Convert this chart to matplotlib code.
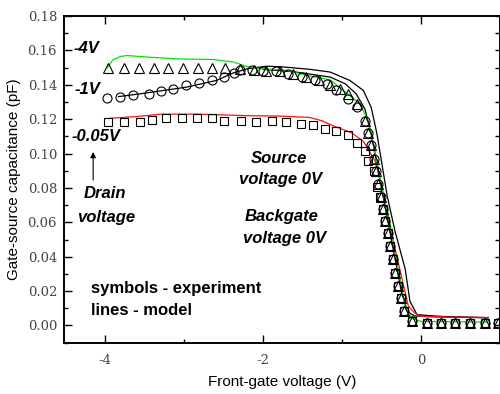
import matplotlib
matplotlib.use("Agg")
import matplotlib.pyplot as plt
from matplotlib.ticker import MultipleLocator

plt.rcParams['axes.unicode_minus'] = False
plt.rcParams['font.family'] = 'DejaVu Serif'   # tick labels are serif in the original

# experiment, drain voltage -4V (triangles)
tri_x = [-3.96, -3.76, -3.57, -3.38, -3.20, -3.01, -2.82, -2.64, -2.48,
         -2.29, -2.12, -1.96, -1.79, -1.62, -1.46, -1.29, -1.15, -1.03, -0.92, -0.81, -0.71,
         -0.67, -0.63, -0.60, -0.57, -0.54, -0.51, -0.48, -0.45, -0.42, -0.39, -0.36, -0.33,
         -0.29, -0.25, -0.21, -0.12, 0.07, 0.25, 0.43, 0.62, 0.81, 0.98]
tri_y = [0.150, 0.150, 0.150, 0.150, 0.150, 0.150, 0.150, 0.150, 0.150,
         0.149, 0.1484, 0.1478, 0.1478, 0.146, 0.1445, 0.1425, 0.140, 0.1375, 0.1347, 0.1288, 0.119,
         0.112, 0.105, 0.097, 0.090, 0.082, 0.075, 0.068, 0.061, 0.054, 0.0465, 0.0386, 0.0308,
         0.0229, 0.0161, 0.0085, 0.0024, 0.0015, 0.0015, 0.0015, 0.0015, 0.0015, 0.0015]

# experiment, drain voltage -1V (circles)
circ_x = [-3.98, -3.81, -3.64, -3.44, -3.29, -3.14, -2.97, -2.81, -2.65, -2.50, -2.37,
          -2.29, -2.14, -2.00, -1.83, -1.68, -1.51, -1.34, -1.19, -1.07, -0.92, -0.81, -0.71,
          -0.67, -0.63, -0.60, -0.57, -0.54, -0.51, -0.48, -0.45, -0.42, -0.39, -0.36, -0.33,
          -0.29, -0.25, -0.21, -0.12, 0.07, 0.25, 0.43, 0.62, 0.81, 0.98]
circ_y = [0.1321, 0.1331, 0.1341, 0.1347, 0.1366, 0.1376, 0.1396, 0.1409, 0.1425, 0.1445, 0.1466,
          0.1484, 0.1484, 0.1478, 0.148, 0.1464, 0.1445, 0.1425, 0.1405, 0.137, 0.132, 0.127, 0.119,
          0.112, 0.105, 0.097, 0.090, 0.082, 0.075, 0.068, 0.061, 0.054, 0.0465, 0.0386, 0.0308,
          0.0229, 0.0161, 0.0085, 0.0024, 0.0015, 0.0015, 0.0015, 0.0015, 0.0015, 0.0015]

# experiment, drain voltage -0.05V (squares)
sq_x = [-3.96, -3.76, -3.56, -3.41, -3.23, -3.03, -2.84, -2.65, -2.49, -2.28, -2.09, -1.89,
        -1.71, -1.52, -1.37, -1.22, -1.07, -0.92, -0.81, -0.71, -0.67, -0.60, -0.56, -0.52,
        -0.48, -0.45, -0.42, -0.39, -0.36, -0.33, -0.29, -0.25, -0.21, -0.12,
        0.07, 0.25, 0.43, 0.62, 0.81, 0.98]
sq_y = [0.1184, 0.1184, 0.1186, 0.1196, 0.1206, 0.1206, 0.1206, 0.1206, 0.119, 0.119, 0.1182, 0.119,
        0.1186, 0.1174, 0.1167, 0.1145, 0.113, 0.1108, 0.1059, 0.1014, 0.0955, 0.0896, 0.0808, 0.0749,
        0.068, 0.061, 0.054, 0.0465, 0.0386, 0.0308, 0.0229, 0.0161, 0.0085, 0.0024,
        0.0015, 0.0015, 0.0015, 0.0015, 0.0015, 0.0015]

# model curves
green_x = [-3.97, -3.90, -3.80, -3.72, -3.43, -3.05, -2.63, -2.38, -2.19, -2.04, -1.70, -1.45,
           -1.15, -0.94, -0.77, -0.69, -0.63, -0.56, -0.48, -0.39, -0.29, -0.20, -0.12, -0.01, 0.85]
green_y = [0.150, 0.1545, 0.1565, 0.157, 0.156, 0.155, 0.1547, 0.1533, 0.1504, 0.1494, 0.1484, 0.1455,
           0.1429, 0.135, 0.1288, 0.121, 0.112, 0.0955, 0.077, 0.059, 0.033, 0.011, 0.0044, 0.0024, 0.002]

black_x = [-3.83, -3.56, -2.97, -2.59, -2.38, -2.19, -1.95, -1.78, -1.41, -1.15, -0.90, -0.73,
           -0.63, -0.56, -0.50, -0.43, -0.33, -0.20, -0.14, -0.05, 0.24, 0.85]
black_y = [0.1331, 0.1347, 0.1386, 0.1425, 0.1468, 0.1494, 0.1508, 0.1505, 0.149, 0.1474, 0.1425, 0.1367,
           0.1268, 0.112, 0.0955, 0.0759, 0.055, 0.0328, 0.0141, 0.0063, 0.0053, 0.0045]

black2_x = [-2.0, -1.6, -1.15, -0.96, -0.82, -0.71, -0.63, -0.55, -0.45, -0.35, -0.25, -0.17,
            -0.08, 0.2, 0.85]
black2_y = [0.149, 0.1475, 0.1445, 0.1406, 0.1347, 0.1259, 0.1112, 0.092, 0.068, 0.044, 0.020, 0.008,
            0.0055, 0.005, 0.0045]

red_x = [-3.94, -3.60, -3.30, -2.80, -2.19, -1.80, -1.41, -1.25, -1.11, -0.88, -0.73, -0.58,
         -0.50, -0.44, -0.35, -0.24, -0.16, -0.08, -0.01, 0.37, 0.85]
red_y = [0.1205, 0.1215, 0.1229, 0.1229, 0.122, 0.1218, 0.121, 0.119, 0.1161, 0.1121, 0.1072, 0.0955,
         0.0817, 0.0675, 0.049, 0.027, 0.0112, 0.0073, 0.0053, 0.0049, 0.0047]

fig = plt.figure(figsize=(5.0, 3.94), dpi=100)
ax = fig.add_axes([0.128, 0.1294, 0.872, 0.8300])

lw = 0.9
ax.plot(black_x, black_y, color="black", linewidth=lw)
ax.plot(black2_x, black2_y, color="black", linewidth=lw)
ax.plot(red_x, red_y, color="#ff1010", linewidth=lw)
ax.plot(green_x, green_y, color="#00e600", linewidth=lw)

mk = dict(linestyle="none", markerfacecolor="none", markeredgecolor="black", markeredgewidth=0.8)
ax.plot(sq_x, sq_y, marker="s", markersize=5.5, **mk)
ax.plot(circ_x, circ_y, marker="o", markersize=6.5, **mk)
ax.plot(tri_x, tri_y, marker="^", markersize=6.5, **mk)

ax.set_xlim(-4.519, 1.0)
ax.set_ylim(-0.0102, 0.18)

ax.xaxis.set_major_locator(MultipleLocator(2))
ax.xaxis.set_minor_locator(MultipleLocator(1))
ax.yaxis.set_major_locator(MultipleLocator(0.02))
ax.yaxis.set_minor_locator(MultipleLocator(0.01))
ax.yaxis.set_major_formatter(plt.FormatStrFormatter('%.2f'))
ax.xaxis.set_major_formatter(plt.FormatStrFormatter('%d'))

ax.tick_params(which="both", direction="in", top=True, right=False, width=1.0,
               labelsize=9.5, labelcolor="#444444")
ax.tick_params(which="major", length=6)
ax.tick_params(which="minor", length=3)
ax.tick_params(axis="y", which="major", pad=5)
ax.tick_params(axis="x", which="major", pad=8)

ax2 = ax.twinx()
ax2.set_ylim(ax.get_ylim())
ax2.yaxis.set_major_locator(MultipleLocator(0.01))
ax2.tick_params(axis="y", direction="in", length=3.5, width=1.0, labelright=False)

for a in (ax, ax2):
    for s in a.spines.values():
        s.set_linewidth(1.2)

ax.set_xlabel("Front-gate voltage (V)", family="Liberation Sans", fontsize=11, labelpad=6)
ax.set_ylabel("Gate-source capacitance (pF)", family="Liberation Sans", fontsize=11, labelpad=5)

bi = dict(family="Liberation Sans", fontsize=12, fontweight="bold", fontstyle="italic")
ax.text(-4.40, 0.161, "-4V", va="center", ha="left", **bi)
ax.text(-4.38, 0.1375, "-1V", va="center", ha="left", **bi)
ax.text(-4.42, 0.110, "-0.05V", va="center", ha="left", **bi)
ax.text(-4.0, 0.077, "Drain", va="center", ha="center", **bi)
ax.text(-3.99, 0.063, "voltage", va="center", ha="center", **bi)
ax.text(-1.80, 0.097, "Source", va="center", ha="center", **bi)
ax.text(-1.78, 0.0847, "voltage 0V", va="center", ha="center", **bi)
ax.text(-1.76, 0.0632, "Backgate", va="center", ha="center", **bi)
ax.text(-1.73, 0.0508, "voltage 0V", va="center", ha="center", **bi)
ax.annotate("", xy=(-4.15, 0.1025), xytext=(-4.15, 0.083),
            arrowprops=dict(arrowstyle="-|>", color="black", lw=0.8, mutation_scale=8))

bo = dict(family="Liberation Sans", fontsize=12, fontweight="bold")
ax.text(-4.18, 0.0214, "symbols - experiment", va="center", ha="left", **bo)
ax.text(-4.18, 0.0087, "lines - model", va="center", ha="left", **bo)

fig.savefig("out.png", dpi=100)
